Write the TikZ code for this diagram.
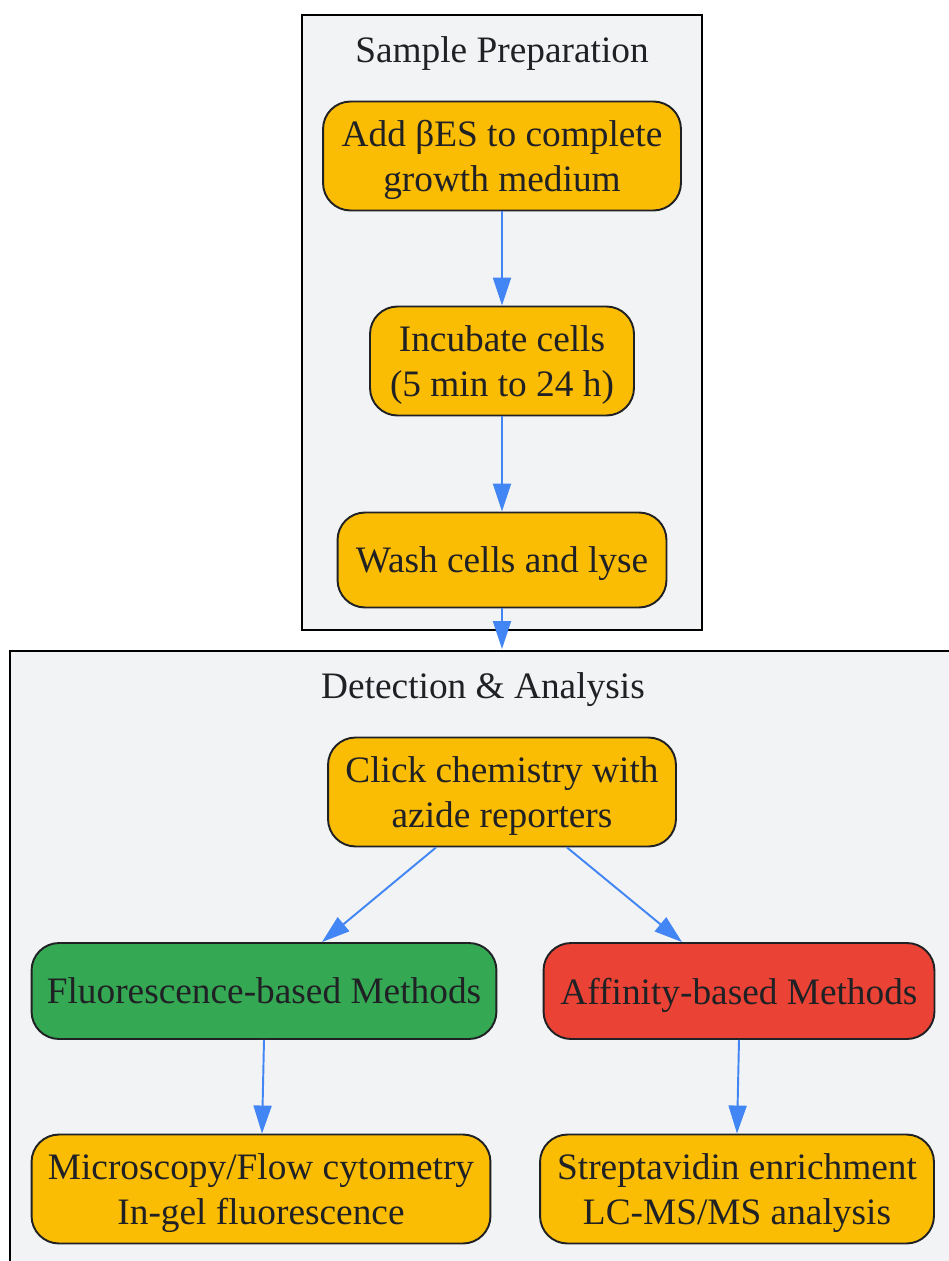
\documentclass[tikz,border=0pt]{standalone}
\usepackage{fontspec}
\setmainfont{Liberation Serif}
\usetikzlibrary{arrows.meta,positioning,calc}
\definecolor{stepyellow}{HTML}{FBBC04}
\definecolor{stepgreen}{HTML}{34A853}
\definecolor{stepred}{HTML}{EA4335}
\definecolor{flowblue}{HTML}{4285F4}
\definecolor{clusterfill}{HTML}{F1F3F4}
\definecolor{inkdark}{HTML}{202124}
\tikzset{
  stepbox/.style={draw=inkdark, line width=1.1pt, rounded corners=0.55cm, fill=stepyellow,
    text=inkdark, align=center, inner sep=0pt, text depth=0pt,
    font=\fontsize{21.25}{25.5}\selectfont},
  flow/.style={draw=flowblue, line width=1.1pt, -{Triangle[length=0.56cm,width=0.36cm]}},
  cluster/.style={draw=black, line width=1.1pt, fill=clusterfill},
  clustertitle/.style={text=inkdark, text depth=0pt, font=\fontsize{21.25}{25.5}\selectfont}
}
\begin{document}
\begin{tikzpicture}[x=0.02cm, y=-0.02cm]
  \useasboundingbox[fill=white] (0,0) rectangle (949,1261);
  % clusters
  \draw[cluster] (302,15) rectangle (702,630);
  \node[clustertitle] (prepTitle) at (502,50) {Sample Preparation};
  \draw[cluster] (10,651) rectangle (960,1275);
  \node[clustertitle] (detTitle) at (483,686) {Detection \& Analysis};
  \coordinate (detTop) at (502,649);
  % steps
  \node[stepbox, minimum width=7.16cm, minimum height=2.18cm] (addBes) at (502,156) {Add βES to complete\\growth medium};
  \node[stepbox, minimum width=5.28cm, minimum height=2.18cm] (incubate) at (502,361) {Incubate cells\\(5 min to 24 h)};
  \node[stepbox, minimum width=6.58cm, minimum height=1.90cm] (wash) at (502,560) {Wash cells and lyse};
  \node[stepbox, minimum width=6.96cm, minimum height=2.18cm] (click) at (502,792) {Click chemistry with\\azide reporters};
  \node[stepbox, fill=stepgreen, minimum width=9.30cm, minimum height=1.92cm] (fluor) at (264,991) {Fluorescence-based Methods};
  \node[stepbox, fill=stepred, minimum width=7.82cm, minimum height=1.92cm] (affin) at (739,991) {Affinity-based Methods};
  \node[stepbox, minimum width=9.18cm, minimum height=2.18cm] (micro) at (261,1189) {Microscopy/Flow cytometry\\In-gel fluorescence};
  \node[stepbox, minimum width=7.88cm, minimum height=2.18cm] (strep) at (737,1189) {Streptavidin enrichment\\LC-MS/MS analysis};
  % connectors
  \draw[flow] (addBes) -- (incubate);
  \draw[flow] (incubate) -- (wash);
  \draw[flow] (wash) -- (detTop);
  \draw[flow] (click.south) ++(-66,0) coordinate (clickL) (clickL) -- (fluor.north -| 322,0);
  \draw[flow] (click.south) ++(65,0) coordinate (clickR) (clickR) -- (affin.north -| 682,0);
  \draw[flow] (fluor.south) -- (micro.north -| 262,0);
  \draw[flow] (affin.south) -- (strep.north -| 737,0);
\end{tikzpicture}
\end{document}
